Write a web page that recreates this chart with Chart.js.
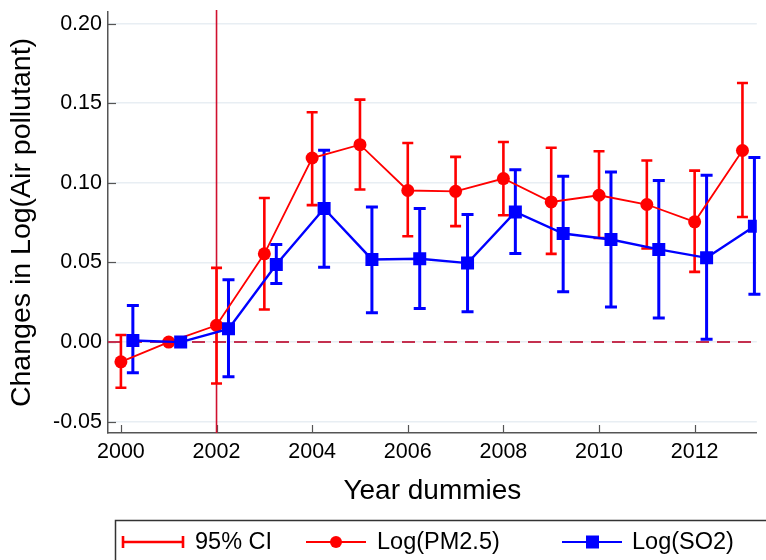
<!DOCTYPE html>
<html>
<head>
<meta charset="utf-8">
<script src="https://cdn.jsdelivr.net/npm/chart.js@4.4.1/dist/chart.umd.min.js"></script>
<style>
  body { margin: 0; background: #fff; }
  #wrap { width: 766px; height: 560px; position: relative; }
</style>
</head>
<body>
<div id="wrap"><canvas id="myChart"></canvas></div>
<script>
// year dummies (2001 is the base year)
var years = [2000, 2001, 2002, 2003, 2004, 2005, 2006, 2007, 2008, 2009, 2010, 2011, 2012, 2013];

// Log(PM2.5) coefficients with 95% CI
var pm25   = [-0.0124, 0, 0.0105, 0.0554, 0.1156, 0.1240, 0.0952, 0.0947, 0.1027, 0.0880, 0.0922, 0.0864, 0.0755, 0.1203];
var pm25Hi = [0.0044, null, 0.0466, 0.0905, 0.1443, 0.1523, 0.1250, 0.1163, 0.1257, 0.1220, 0.1198, 0.1140, 0.1077, 0.1627];
var pm25Lo = [-0.0287, null, -0.0260, 0.0205, 0.0860, 0.0958, 0.0665, 0.0728, 0.0797, 0.0554, 0.0654, 0.0588, 0.0441, 0.0786];

// Log(SO2) coefficients with 95% CI, drawn a quarter year to the right
var so2   = [0.0010, 0, 0.0083, 0.0487, 0.0839, 0.0519, 0.0523, 0.0496, 0.0817, 0.0682, 0.0644, 0.0582, 0.0529, 0.0728];
var so2Hi = [0.0230, null, 0.0392, 0.0613, 0.1204, 0.0849, 0.0839, 0.0801, 0.1083, 0.1041, 0.1068, 0.1014, 0.1048, 0.1160];
var so2Lo = [-0.0193, null, -0.0218, 0.0368, 0.0470, 0.0184, 0.0211, 0.0190, 0.0556, 0.0316, 0.0221, 0.0152, 0.0017, 0.0300];
var so2Shift = 0.25;

var xTicks = [2000, 2002, 2004, 2006, 2008, 2010, 2012];
var yTicks = [-0.05, 0, 0.05, 0.10, 0.15, 0.20];
var policyYear = 2002;

var FONT = "'Liberation Sans', Arial, Helvetica, sans-serif";
var RED = '#ff0000';
var BLUE = '#0000ff';

function points(xs, ys, shift) {
  return xs.map(function (x, i) { return { x: x + shift, y: ys[i] }; });
}

// reference lines, inward tick marks and the CI caps (under the connected lines)
var underlay = {
  id: 'underlay',
  beforeDatasetsDraw: function (chart) {
    var ctx = chart.ctx, a = chart.chartArea;
    var xs = chart.scales.x, ys = chart.scales.y;
    ctx.save();

    ctx.strokeStyle = '#555';
    ctx.lineWidth = 1.2;
    yTicks.forEach(function (v) {
      var py = Math.round(ys.getPixelForValue(v)) + 0.5;
      ctx.beginPath(); ctx.moveTo(a.left, py); ctx.lineTo(a.left + 8, py); ctx.stroke();
    });
    xTicks.forEach(function (v) {
      var px = Math.round(xs.getPixelForValue(v)) + 0.5;
      ctx.beginPath(); ctx.moveTo(px, a.bottom); ctx.lineTo(px, a.bottom - 8); ctx.stroke();
    });

    // zero line
    var y0 = ys.getPixelForValue(0);
    ctx.strokeStyle = '#c4304f';
    ctx.lineWidth = 2;
    ctx.setLineDash([13, 8]);
    ctx.beginPath(); ctx.moveTo(a.left, y0); ctx.lineTo(a.right, y0); ctx.stroke();
    ctx.setLineDash([]);

    // policy year line
    var xp = xs.getPixelForValue(policyYear);
    ctx.strokeStyle = '#d0102e';
    ctx.lineWidth = 1.6;
    ctx.beginPath(); ctx.moveTo(xp, a.top - 2); ctx.lineTo(xp, a.bottom); ctx.stroke();

    drawCI(ctx, xs, ys, years, 0, pm25Lo, pm25Hi, RED, 2.6, 5.5);
    drawCI(ctx, xs, ys, years, so2Shift, so2Lo, so2Hi, BLUE, 3, 6);
    ctx.restore();
  }
};

function drawCI(ctx, xs, ys, xv, shift, lo, hi, color, lw, cap) {
  ctx.strokeStyle = color;
  ctx.lineWidth = lw;
  for (var i = 0; i < xv.length; i++) {
    if (lo[i] === null) continue;
    var px = xs.getPixelForValue(xv[i] + shift);
    var pl = ys.getPixelForValue(lo[i]);
    var ph = ys.getPixelForValue(hi[i]);
    ctx.beginPath();
    ctx.moveTo(px, pl); ctx.lineTo(px, ph);
    ctx.moveTo(px - cap, pl); ctx.lineTo(px + cap, pl);
    ctx.moveTo(px - cap, ph); ctx.lineTo(px + cap, ph);
    ctx.stroke();
  }
}

// boxed legend at the foot of the figure
var footLegend = {
  id: 'footLegend',
  afterDraw: function (chart) {
    var ctx = chart.ctx;
    var cy = 542;
    ctx.save();
    ctx.strokeStyle = '#333';
    ctx.lineWidth = 1.5;
    ctx.strokeRect(115.5, 520.5, 700, 60);

    // 95% CI
    ctx.strokeStyle = RED; ctx.lineWidth = 2.6;
    ctx.beginPath();
    ctx.moveTo(123, cy); ctx.lineTo(183, cy);
    ctx.moveTo(123, cy - 6); ctx.lineTo(123, cy + 6);
    ctx.moveTo(183, cy - 6); ctx.lineTo(183, cy + 6);
    ctx.stroke();

    // PM2.5
    ctx.lineWidth = 2;
    ctx.beginPath(); ctx.moveTo(306, cy); ctx.lineTo(366, cy); ctx.stroke();
    ctx.fillStyle = RED;
    ctx.beginPath(); ctx.arc(336, cy, 6, 0, Math.PI * 2); ctx.fill();

    // SO2
    ctx.strokeStyle = BLUE;
    ctx.beginPath(); ctx.moveTo(562, cy); ctx.lineTo(622, cy); ctx.stroke();
    ctx.fillStyle = BLUE;
    ctx.fillRect(586, cy - 6.5, 13, 13);

    ctx.fillStyle = '#000';
    ctx.font = '23.5px ' + FONT;
    ctx.textBaseline = 'middle';
    ctx.textAlign = 'left';
    ctx.fillText('95% CI', 195, cy + 1);
    ctx.fillText('Log(PM2.5)', 377, cy + 1);
    ctx.fillText('Log(SO2)', 632, cy + 1);
    ctx.restore();
  }
};

var ctx = document.getElementById('myChart').getContext('2d');
var myChart = new Chart(ctx, {
  type: 'line',
  data: {
    datasets: [{
      label: 'Log(PM2.5)',
      data: points(years, pm25, 0),
      borderColor: RED,
      backgroundColor: RED,
      borderWidth: 1.8,
      pointStyle: 'circle',
      pointRadius: 6.5,
      pointBorderWidth: 0,
      pointBackgroundColor: RED,
      tension: 0,
      order: 2
    }, {
      label: 'Log(SO2)',
      data: points(years, so2, so2Shift),
      borderColor: BLUE,
      backgroundColor: BLUE,
      borderWidth: 2.4,
      pointStyle: 'rect',
      pointRadius: 9.2,
      pointBorderWidth: 0,
      pointBackgroundColor: BLUE,
      tension: 0,
      order: 1
    }]
  },
  options: {
    responsive: true,
    maintainAspectRatio: false,
    animation: false,
    layout: { padding: { top: 12, right: 0, bottom: 0, left: 0 } },
    plugins: {
      legend: { display: false },
      tooltip: { enabled: false }
    },
    scales: {
      x: {
        type: 'linear',
        min: 1999.73,
        max: 2013.3,
        afterBuildTicks: function (s) { s.ticks = xTicks.map(function (v) { return { value: v }; }); },
        afterFit: function (s) { s.height = 127; s.paddingLeft = 0; s.paddingRight = 0; },
        grid: { display: false, drawTicks: false },
        border: { display: true, color: '#555', width: 1.5 },
        ticks: {
          color: '#000',
          font: { family: FONT, size: 21.5 },
          padding: 6,
          maxRotation: 0,
          callback: function (v) { return String(v); }
        },
        title: {
          display: true,
          text: 'Year dummies',
          color: '#000',
          font: { family: FONT, size: 28 },
          padding: { top: 0, bottom: 52 }
        }
      },
      y: {
        min: -0.0571,
        max: 0.2073,
        afterBuildTicks: function (s) { s.ticks = yTicks.map(function (v) { return { value: v }; }); },
        afterFit: function (s) { s.width = 108; s.paddingTop = 0; s.paddingBottom = 0; },
        grid: { color: '#e8eef3', lineWidth: 1.5, drawTicks: false },
        border: { display: true, color: '#555', width: 1.5 },
        ticks: {
          color: '#000',
          font: { family: FONT, size: 21.5 },
          padding: 6,
          callback: function (v) { return v.toFixed(2); }
        },
        title: {
          display: true,
          text: 'Changes in Log(Air pollutant)',
          color: '#000',
          font: { family: FONT, size: 28.5 },
          padding: { top: 5, bottom: 0 }
        }
      }
    }
  },
  plugins: [underlay, footLegend]
});
</script>
</body>
</html>
